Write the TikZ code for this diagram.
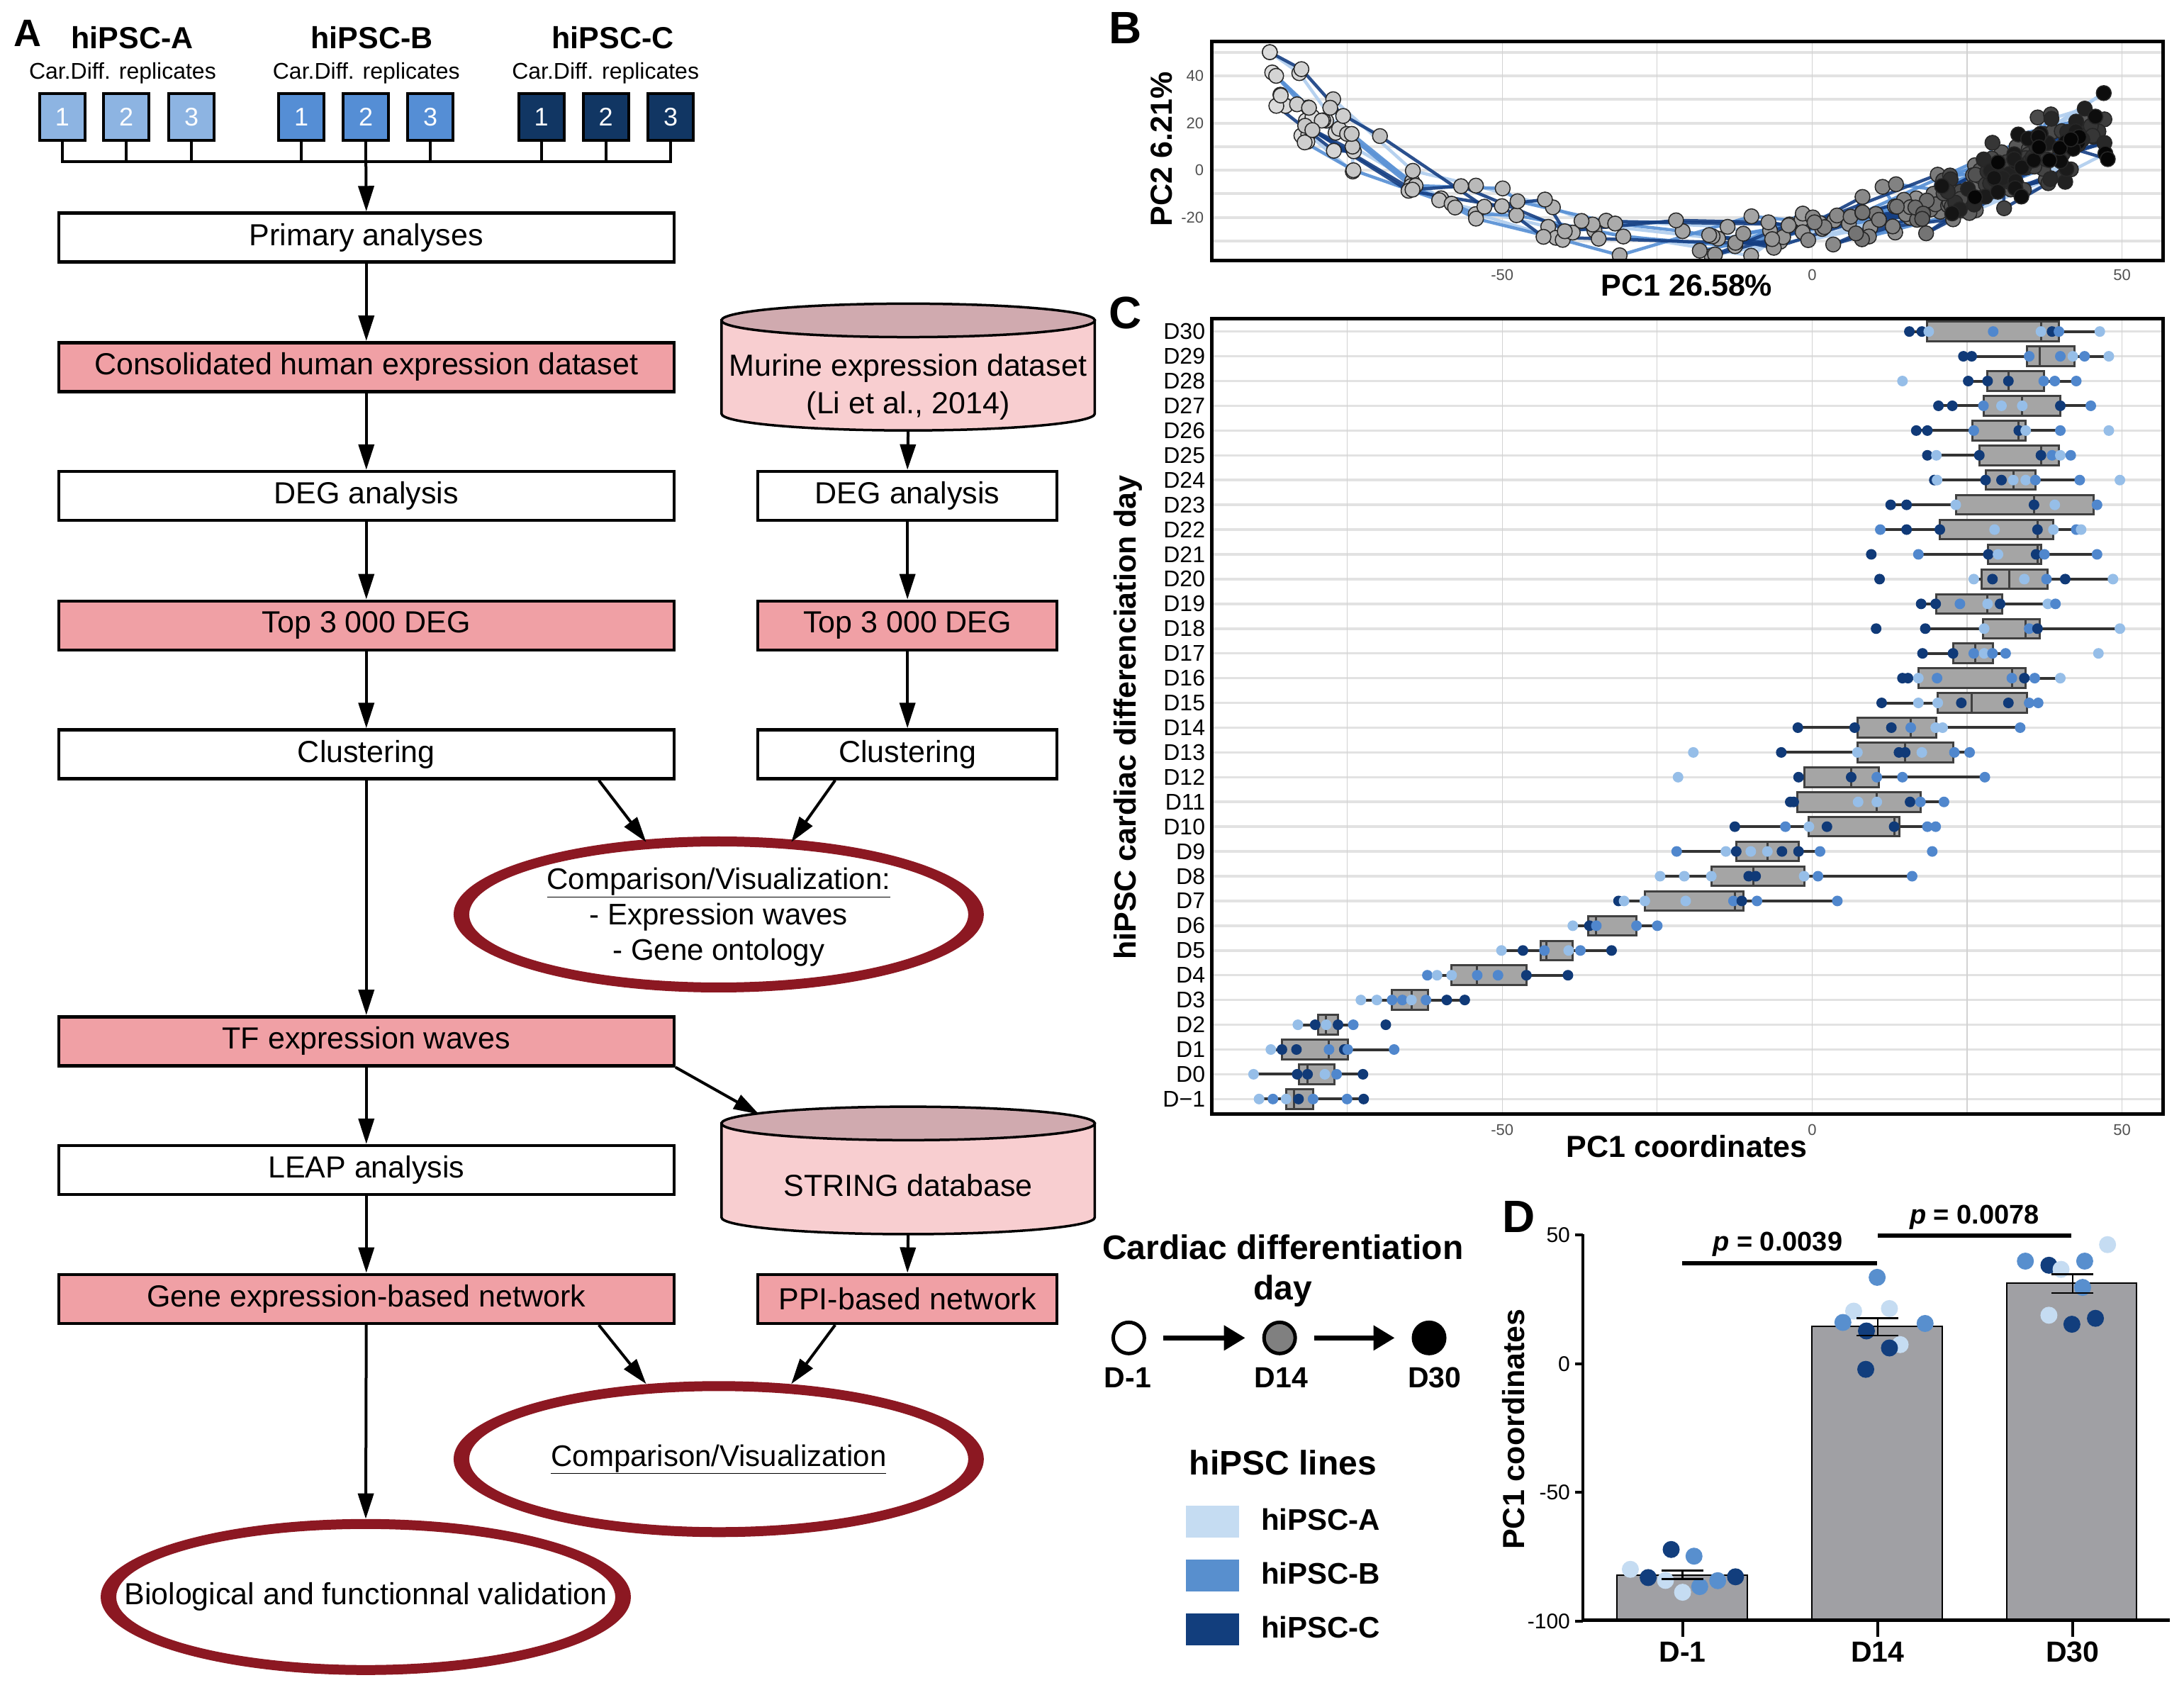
\documentclass[tikz,border=0pt]{standalone}
\usepackage{fontspec}
\setmainfont{Liberation Sans}
\usetikzlibrary{arrows.meta,shapes.geometric}
\definecolor{boxA}{RGB}{141,180,226}
\definecolor{boxB}{RGB}{85,142,213}
\definecolor{boxC}{RGB}{17,54,99}
\definecolor{pinkbox}{RGB}{240,160,165}
\definecolor{cyltop}{RGB}{208,170,175}
\definecolor{cylbody}{RGB}{248,206,208}
\definecolor{ered}{RGB}{140,24,34}
\definecolor{cL}{RGB}{150,190,232}
\definecolor{cM}{RGB}{80,135,205}
\definecolor{cD}{RGB}{16,58,120}
\definecolor{lineL}{RGB}{175,205,238}
\definecolor{lineM}{RGB}{85,142,212}
\definecolor{lineD}{RGB}{20,62,130}
\definecolor{legA}{RGB}{197,220,242}
\definecolor{legB}{RGB}{88,143,206}
\definecolor{legC}{RGB}{18,62,125}
\definecolor{bargray}{RGB}{160,160,164}
\definecolor{boxgray}{RGB}{165,165,165}
\definecolor{gridg}{RGB}{226,226,226}
\definecolor{tickg}{RGB}{80,80,80}
\newcommand\fs[2]{\fontsize{#1}{#2}\selectfont}
\def\medarr{{283,303,334,330,453,548,648,720,920,947,967,1150,1125,1088,1166,1174,1262,1320,1267,1340,1285,1316,1357,1357,1352,1322,1362,1330,1335,1315,1360,1362}}
\newcommand\ptB[2]{%
  \pgfmathsetmacro\bmed{\medarr[#2]}%
  \pgfmathsetmacro\na{frac(1000+997*sin(#1*127.1+#2*311.7))}%
  \pgfmathsetmacro\nb{frac(1000+991*sin(#1*269.5+#2*183.3+17))}%
  \pgfmathsetmacro\sr{(frac(#1*0.6180339)-0.5)*16}%
  \pgfmathsetmacro\jit{ifthenelse(#2<8,10,22)}%
  \pgfmathsetmacro\pcx{(\bmed-1033)/8.95+(\na-0.5)*\jit}%
  \pgfmathsetmacro\dd{\pcx+20-\sr}%
  \pgfmathsetmacro\pcy{ifthenelse(\dd<0,-30+0.0138*\dd*\dd,-30+0.0112*\dd*\dd)+(\nb-0.5)*16}%
  \pgfmathsetmacro\bx{1301+4.45*\pcx}%
  \pgfmathsetmacro\by{122.2-1.695*min(\pcy,50)}%
}
\begin{document}
\begin{tikzpicture}[x=1.965pt,y=-1.965pt,
  flow/.style={draw=black, line width=4.5pt, minimum height=69pt, inner sep=0pt, font=\fs{43}{50}, align=center},
  wide/.style={flow, minimum width=868pt},
  narr/.style={flow, minimum width=422pt},
  arr/.style={line width=4pt, -{Triangle[length=36pt,width=22pt]}},
  rep/.style={draw=black, line width=4pt, minimum width=64pt, minimum height=66pt, inner sep=0pt, text=white, font=\fs{36}{40}},
  lbl/.style={font=\bfseries\fs{64}{70}},
  axlab/.style={font=\bfseries\fs{43}{50}},
  tick/.style={font=\fs{22}{26}, text=tickg}]
\useasboundingbox (0,0) rectangle (1568,1213);
\fill[white] (0,0) rectangle (1568,1213);

% ================= Panel A =================
\node[font=\bfseries\fs{54}{60}] (LA) at (20,24) {A};
\node[font=\bfseries\fs{43}{50}] (hA) at (95,27) {hiPSC-A};
\node[font=\bfseries\fs{43}{50}] (hB) at (267,27) {hiPSC-B};
\node[font=\bfseries\fs{43}{50}] (hC) at (440,27) {hiPSC-C};
\node[font=\fs{32}{38}] (rA) at (88,52.6) {Car.Diff. replicates};
\node[font=\fs{32}{38}] (rB) at (263,52.6) {Car.Diff. replicates};
\node[font=\fs{32}{38}] (rC) at (434.7,52.6) {Car.Diff. replicates};
\coordinate (hb) at (0,116);
\foreach \nm/\xx/\col/\nn in {a1/44.7/boxA/1, a2/90.7/boxA/2, a3/137.5/boxA/3, b1/216.4/boxB/1, b2/262.7/boxB/2, b3/309/boxB/3, c1/388.6/boxC/1, c2/435/boxC/2, c3/481.5/boxC/3}{
  \node[rep, fill=\col] (\nm) at (\xx,84) {\nn};
  \draw[line width=4pt] (\nm.south) -- (\nm.south |- hb);
}
\draw[line width=4pt, line cap=rect] (a1.south |- hb) -- (c3.south |- hb);

\node[wide, fill=white] (prim) at (263,170.5) {Primary analyses};
\node[wide, fill=pinkbox] (cons) at (263,263.5) {Consolidated human expression dataset};
\node[wide, fill=white] (degL) at (263,356) {DEG analysis};
\node[wide, fill=pinkbox] (topL) at (263,449) {Top 3 000 DEG};
\node[wide, fill=white] (clL) at (263,541.5) {Clustering};
\node[wide, fill=pinkbox] (tf) at (263,747.5) {TF expression waves};
\node[wide, fill=white] (leap) at (263,840) {LEAP analysis};
\node[wide, fill=pinkbox] (gen) at (263,932.5) {Gene expression-based network};
\node[narr, fill=white] (degR) at (651.5,356) {DEG analysis};
\node[narr, fill=pinkbox] (topR) at (651.5,449) {Top 3 000 DEG};
\node[narr, fill=white] (clR) at (651.5,541.5) {Clustering};
\node[narr, fill=pinkbox] (ppi) at (651.5,932.5) {PPI-based network};

% cylinders
\filldraw[fill=cylbody, draw=black, line width=3.5pt] (518,230) -- (518,297) arc[start angle=180, end angle=360, x radius=263.3pt, y radius=23.6pt] -- (786,230) -- cycle;
\filldraw[fill=cyltop, draw=black, line width=3.5pt] (652,230) ellipse[x radius=263.3pt, y radius=23.6pt];
\node[font=\fs{43}{53}, align=center] (mur) at (652,278) {Murine expression dataset\\(Li et al., 2014)};
\coordinate (murbot) at (652,309.5);
\filldraw[fill=cylbody, draw=black, line width=3.5pt] (518,806.5) -- (518,874) arc[start angle=180, end angle=360, x radius=263.3pt, y radius=23.6pt] -- (786,806.5) -- cycle;
\filldraw[fill=cyltop, draw=black, line width=3.5pt] (652,806.5) ellipse[x radius=263.3pt, y radius=23.6pt];
\node[font=\fs{43}{50}] (str) at (652,851) {STRING database};
\coordinate (strtop) at (545,800);
\coordinate (strbot) at (652,886);

% ellipses
\fill[ered, even odd rule] (516,656.5) ellipse[x radius=374pt, y radius=110pt] (516,656.5) ellipse[x radius=352pt, y radius=96pt];
\node[ellipse, minimum width=748pt, minimum height=220pt, inner sep=0pt, align=center, font=\fs{42}{50}] (e1) at (516,658.5) {\underline{Comparison/Visualization:}\\- Expression waves\\- Gene ontology};
\fill[ered, even odd rule] (516,1047.5) ellipse[x radius=374pt, y radius=110pt] (516,1047.5) ellipse[x radius=352pt, y radius=96pt];
\node[ellipse, minimum width=748pt, minimum height=220pt, inner sep=0pt, align=center, font=\fs{42}{50}] (e2) at (516,1047.5) {\underline{Comparison/Visualization}};
\fill[ered, even odd rule] (262.6,1146.5) ellipse[x radius=374pt, y radius=110pt] (262.6,1146.5) ellipse[x radius=352pt, y radius=96pt];
\node[ellipse, minimum width=748pt, minimum height=220pt, inner sep=0pt, align=center, font=\fs{43}{50}] (e3) at (262.6,1146.5) {Biological and functionnal validation};

% arrows
\draw[arr] (b2.south |- hb) -- (prim.north);
\draw[arr] (prim) -- (cons);
\draw[arr] (cons) -- (degL);
\draw[arr] (degL) -- (topL);
\draw[arr] (topL) -- (clL);
\draw[arr] (clL) -- (tf);
\draw[arr] (tf) -- (leap);
\draw[arr] (leap) -- (gen);
\draw[arr] (gen) -- (e3.north);
\draw[arr] (murbot) -- (degR.north);
\draw[arr] (degR) -- (topR);
\draw[arr] (topR) -- (clR);
\draw[arr] (strbot) -- (ppi.north);
\draw[arr] ([xshift=328pt]clL.south) -- (e1.134);
\draw[arr] ([xshift=-102pt]clR.south) -- (e1.46);
\draw[arr] (tf.south east) -- (strtop);
\draw[arr] ([xshift=328pt]gen.south) -- (e2.134);
\draw[arr] ([xshift=-102pt]ppi.south) -- (e2.46);

% ================= Panel B =================
\node[lbl] (LB) at (808,20) {B};
\foreach \v in {-30,-20,...,50}{
  \draw[gridg, line width=4pt] (870,122.2-1.695*\v) -- (1553,122.2-1.695*\v);
}
\foreach \v in {-75,-50,-25,0,25,50}{
  \draw[gray!35, line width=1.2pt] (1301+4.45*\v,30) -- (1301+4.45*\v,187);
}
\begin{scope}
\clip (870,30) rectangle (1553,187);
\foreach \r in {1,...,9}{
  \pgfmathtruncatemacro\lidx{(\r-1)/3}
  \ifcase\lidx \def\lc{lineL}\or \def\lc{lineM}\else \def\lc{lineD}\fi
  \foreach \k in {1,...,31}{
    \pgfmathtruncatemacro\kp{\k-1}
    \ptB{\r}{\kp}\let\px\bx\let\py\by
    \ptB{\r}{\k}
    \draw[color=\lc, line width=4.5pt, opacity=0.9, line cap=round] (\px,\py) -- (\bx,\by);
  }
}
\foreach \k in {0,...,31}{
  \pgfmathsetmacro\gl{86-2.7*\k}
  \foreach \r in {1,...,9}{
    \ptB{\r}{\k}
    \filldraw[fill=white!\gl!black, draw=black!85, line width=1.5pt] (\bx,\by) circle[radius=10.5pt];
  }
}
\end{scope}
\draw[line width=5pt] (870,30) rectangle (1553,187);
\foreach \v/\t in {40/40,20/20,0/0,-20/-20}{
  \node[tick, anchor=east] at (866,122.2-1.695*\v) {\t};
}
\foreach \v/\t in {-50/-50,0/0,50/50}{
  \node[tick] at (1301+4.45*\v,197.5) {\t};
}
\node[axlab, rotate=90] (ylB) at (834,107) {PC2 6.21\%};
\node[axlab] (xlB) at (1211,205) {PC1 26.58\%};

% ================= Panel C =================
\node[lbl] (LC) at (808,224.5) {C};
\foreach \k in {0,...,31}{
  \draw[gridg, line width=3.5pt] (870,789-17.774*\k) -- (1553,789-17.774*\k);
}
\foreach \v in {-75,-50,-25,0,25,50}{
  \draw[gray!35, line width=1.2pt] (1301+4.45*\v,229) -- (1301+4.45*\v,800);
}
\foreach \k/\wl/\qa/\md/\qb/\wh/\pts in {
0/233/272/283/311/384/{233/L,253/M,272/L,290/D,311/M,360/M,384/D},
1/225/291/303/342/383/{225/L,288/D,303/D,328/L,345/M,383/D},
2/250/266/334/361/428/{250/L,266/D,287/D,334/M,356/D,361/M,428/M},
3/289/318/330/347/369/{289/L,314/D,330/L,347/D,369/M,416/D},
4/380/425/453/477/530/{380/L,403/L,425/M,440/M,453/L,474/M,504/D,530/D},
5/476/511/548/619/679/{476/M,490/L,511/L,548/M,578/M,619/D,679/D},
6/583/640/648/686/742/{583/L,614/D,645/M,680/L,697/M,742/D},
7/686/708/720/778/808/{686/L,710/D,720/M,778/M,808/M},
8/752/790/920/932/1068/{752/D,760/L,790/L,849/L,918/M,930/D,952/M,1068/M},
9/812/886/947/1020/1176/{812/L,847/L,886/L,940/D,950/D,1020/L,1040/M,1176/M},
10/836/922/967/1012/1043/{836/M,907/L,922/D,943/L,967/L,988/D,1012/D,1043/M,1205/M},
11/920/1027/1150/1158/1210/{920/D,993/M,1027/L,1053/D,1150/D,1198/M,1210/M},
12/1000/1010/1125/1188/1222/{1000/D,1005/D,1098/L,1125/L,1173/D,1188/M,1222/M},
13/1012/1020/1088/1128/1281/{838/L,1012/D,1088/D,1125/M,1162/M,1281/M},
14/987/1097/1166/1235/1259/{860/L,987/D,1097/L,1157/D,1166/D,1190/L,1237/M,1259/M},
15/1011/1097/1174/1211/1332/{1011/D,1093/D,1146/D,1174/M,1210/L,1220/L,1332/M},
16/1132/1213/1262/1342/1358/{1132/D,1185/L,1213/L,1247/D,1315/D,1345/M,1358/M},
17/1162/1185/1320/1340/1390/{1162/D,1170/D,1185/L,1212/M,1320/M,1338/D,1353/M,1390/L},
18/1191/1235/1267/1293/1311/{1191/D,1235/D,1265/M,1280/L,1292/M,1311/M,1445/L},
19/1195/1278/1340/1360/1476/{1124/D,1195/D,1280/L,1345/M,1357/D,1476/L},
20/1189/1211/1285/1306/1372/{1189/D,1210/D,1245/M,1285/L,1303/D,1372/L,1383/M},
21/1265/1276/1316/1372/1466/{1129/D,1265/L,1292/D,1338/L,1370/M,1397/D,1466/L},
22/1185/1286/1357/1362/1443/{1117/D,1185/M,1286/D,1300/L,1355/D,1367/M,1443/M},
23/1130/1216/1357/1380/1420/{1130/M,1168/D,1216/D,1295/L,1357/D,1380/L,1413/M,1420/L},
24/1145/1239/1352/1438/1443/{1145/D,1168/D,1239/L,1352/D,1382/L,1443/M},
25/1208/1282/1322/1354/1418/{1208/D,1212/L,1282/D,1305/D,1322/L,1340/L,1354/M,1418/M,1476/L},
26/1198/1273/1362/1388/1405/{1198/D,1211/L,1273/D,1362/D,1378/M,1390/L,1405/M},
27/1182/1263/1330/1340/1390/{1182/D,1198/D,1265/M,1330/D,1340/L,1390/M,1460/L},
28/1214/1279/1335/1390/1434/{1214/D,1234/D,1279/M,1305/L,1335/L,1390/D,1434/M},
29/1257/1285/1315/1366/1413/{1162/L,1257/D,1285/D,1315/D,1366/M,1382/M,1413/M},
30/1250/1342/1360/1410/1460/{1250/D,1262/D,1345/M,1390/M,1408/L,1425/M,1460/L},
31/1172/1198/1362/1388/1447/{1172/D,1190/D,1200/L,1293/M,1362/L,1378/D,1388/M,1447/L}}{
  \pgfmathsetmacro\yy{789-17.774*\k}
  \pgfmathsetmacro\xwl{788.1+0.4972*\wl}
  \pgfmathsetmacro\xqa{788.1+0.4972*\qa}
  \pgfmathsetmacro\xmd{788.1+0.4972*\md}
  \pgfmathsetmacro\xqb{788.1+0.4972*\qb}
  \pgfmathsetmacro\xwh{788.1+0.4972*\wh}
  \draw[black!80, line width=4pt] (\xwl,\yy) -- (\xwh,\yy);
  \filldraw[fill=boxgray, draw=black!75, line width=3pt] (\xqa,\yy-7) rectangle (\xqb,\yy+7);
  \draw[black!75, line width=3pt] (\xmd,\yy-7) -- (\xmd,\yy+7);
  \foreach \pv/\cv in \pts {
    \pgfmathsetmacro\xp{788.1+0.4972*\pv}
    \fill[fill=c\cv] (\xp,\yy) circle[radius=7.5pt];
  }
  \pgfmathtruncatemacro\dl{\k-1}
  \ifnum\k=0
    \node[anchor=east, font=\fs{32}{36}] at (867,\yy) {D−1};
  \else
    \node[anchor=east, font=\fs{32}{36}] at (867,\yy) {D\dl};
  \fi
}
\draw[line width=5pt] (870,229) rectangle (1553,800);
\foreach \v/\t in {-50/-50,0/0,50/50}{
  \node[tick] at (1301+4.45*\v,811) {\t};
}
\node[axlab, rotate=90] (ylC) at (810,515) {hiPSC cardiac differenciation day};
\node[axlab] (xlC) at (1211,823) {PC1 coordinates};

% ================= Legend =================
\node[font=\bfseries\fs{48}{57}, align=center] (ltitle) at (921,912.5) {Cardiac differentiation\\day};
\node[circle, draw=black, line width=5pt, fill=white, minimum size=44pt, inner sep=0pt] (lg1) at (810.4,960.5) {};
\node[circle, draw=black, line width=5pt, fill=black!50, minimum size=44pt, inner sep=0pt] (lg2) at (918.7,960.5) {};
\node[circle, draw=black, line width=5pt, fill=black, minimum size=44pt, inner sep=0pt] (lg3) at (1026,960.5) {};
\draw[line width=7pt, -{Triangle[length=30pt,width=34pt]}] ([xshift=24pt]lg1.east) -- ([xshift=-24pt]lg2.west);
\draw[line width=7pt, -{Triangle[length=30pt,width=34pt]}] ([xshift=24pt]lg2.east) -- ([xshift=-24pt]lg3.west);
\node[font=\bfseries\fs{41}{48}] (ld1) at (809.6,989) {D-1};
\node[font=\bfseries\fs{41}{48}] (ld2) at (919.8,989) {D14};
\node[font=\bfseries\fs{41}{48}] (ld3) at (1030,989) {D30};
\node[font=\bfseries\fs{48}{56}] (lines) at (921,1050) {hiPSC lines};
\fill[legA] (851.6,1081) rectangle (889.6,1103.7);
\fill[legB] (851.6,1119.8) rectangle (889.6,1142.5);
\fill[legC] (851.6,1158.3) rectangle (889.6,1181);
\node[font=\bfseries\fs{42}{48}, anchor=west] (lA) at (903.6,1091) {hiPSC-A};
\node[font=\bfseries\fs{42}{48}, anchor=west] (lB) at (903.6,1129.5) {hiPSC-B};
\node[font=\bfseries\fs{42}{48}, anchor=west] (lC) at (903.6,1168) {hiPSC-C};

% ================= Panel D =================
\node[lbl] (LD) at (1090.5,873.5) {D};
\filldraw[fill=bargray, draw=black, line width=2pt] (1161,1163) rectangle (1254.5,1130.7);
\filldraw[fill=bargray, draw=black, line width=2pt] (1301,1163) rectangle (1394.5,952.4);
\filldraw[fill=bargray, draw=black, line width=2pt] (1441,1163) rectangle (1534,921.1);
\foreach \xx/\vv/\cc in {1199.8/-72.1/C, 1216.2/-74.7/B, 1170.5/-79.8/A, 1183.3/-83.0/C, 1195.7/-84.1/A, 1208/-88.7/A, 1220.3/-86.5/B, 1233.2/-84.2/B, 1246/-82.7/C,
 1347.7/33.5/B, 1330.8/20.4/A, 1356.5/21.4/A, 1323.1/16.0/B, 1382.1/15.6/B, 1340/12.7/C, 1364.2/7.4/A, 1356.5/6.1/C, 1339.5/-2.2/C,
 1513.1/46.2/A, 1454.1/39.8/B, 1471/38.2/C, 1496.7/39.8/B, 1479.7/36.6/A, 1495.2/29.6/B, 1471/18.8/A, 1504.4/17.6/C, 1487.5/15.3/C}{
  \pgfmathsetmacro\yv{979-1.85*(\vv)}
  \fill[fill=leg\cc] (\xx,\yv) circle[radius=12pt];
}
\foreach \xx/\lo/\hi in {1208/1127.4/1133.7, 1348/946.4/958.8, 1488/914.8/928.3}{
  \draw[line width=2.5pt] (\xx,\lo) -- (\xx,\hi);
  \draw[line width=2.5pt] (\xx-15,\lo) -- (\xx+15,\lo);
  \draw[line width=2.5pt] (\xx-15,\hi) -- (\xx+15,\hi);
}
\draw[line width=4pt] (1136.5,886) -- (1136.5,1163);
\draw[line width=5pt] (1136.5,1163) -- (1558,1163);
\foreach \v/\t in {50/50,0/0,-50/-50,-100/-100}{
  \draw[line width=4pt] (1131,979-1.85*\v) -- (1136.5,979-1.85*\v);
  \node[anchor=east, font=\fs{30}{34}] at (1129,979-1.85*\v) {\t};
}
\foreach \xx/\t in {1208/D-1, 1348/D14, 1488/D30}{
  \draw[line width=4pt] (\xx,1163) -- (\xx,1175);
  \node[font=\bfseries\fs{41}{48}] at (\xx,1186) {\t};
}
\draw[line width=5.5pt] (1207.6,906.9) -- (1347.6,906.9);
\draw[line width=5.5pt] (1348.3,887.1) -- (1486.9,887.1);
\node[font=\bfseries\fs{38}{44}] (p1) at (1276.3,893.1) {\textit{p} = 0.0039};
\node[font=\bfseries\fs{38}{44}] (p2) at (1417.6,874.1) {\textit{p} = 0.0078};
\node[axlab, rotate=90] (ylD) at (1086.5,1026) {PC1 coordinates};
\end{tikzpicture}
\end{document}
